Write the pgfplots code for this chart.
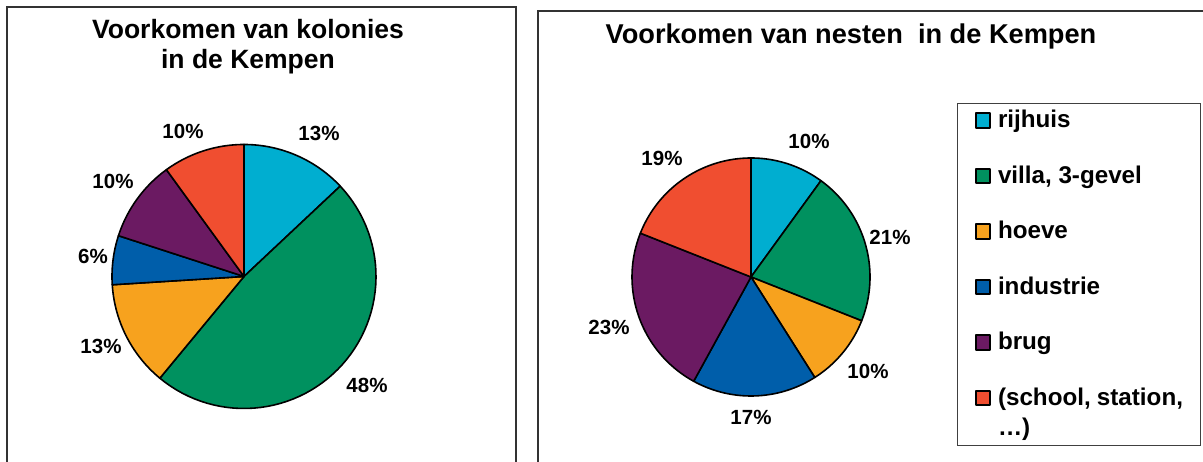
\documentclass[border=0pt]{standalone}
\usepackage{pgfplots}
\pgfplotsset{compat=1.18}
\usepackage{fontspec}
\setmainfont{Liberation Sans}
\definecolor{cRij}{RGB}{0,174,208}
\definecolor{cVil}{RGB}{0,145,95}
\definecolor{cHoe}{RGB}{247,162,30}
\definecolor{cInd}{RGB}{0,94,170}
\definecolor{cBru}{RGB}{107,26,98}
\definecolor{cSch}{RGB}{240,78,48}
% percentages (clockwise from 12 o'clock): rijhuis, villa, hoeve, industrie, brug, school
% kolonies: 13, 48, 13, 6, 10, 10  -> angles 90, 43.2, -129.6, -176.4, -198, -234, -270
% nesten:   10, 21, 10, 17, 23, 19 -> angles 90, 54, -21.6, -57.6, -118.8, -201.6, -270
\pgfplotsset{
  pieax/.style={hide axis, scale only axis, anchor=center, clip=false,
    xmin=-1, xmax=1, ymin=-1, ymax=1},
  slice/.style={fill=#1, draw=black, line width=1.6bp, line join=round, samples=60, variable=\t},
}
\begin{document}
\begin{tikzpicture}[x=1bp,y=1bp]
\clip (0,0) rectangle (1203,462);
% frames
\draw[line width=1.2bp, black!80] (7,-20) -- (7,455) -- (516,455) -- (516,-20);
\draw[line width=1.2bp, black!80] (538,-20) -- (538,451) -- (1240,451);
% titles
\node[font=\fontsize{26.5bp}{30.4bp}\selectfont\bfseries, align=center, anchor=base] at (248,393) {Voorkomen van kolonies\\in de Kempen};
\node[font=\fontsize{27.2bp}{30bp}\selectfont\bfseries, anchor=base] at (851,418) {Voorkomen van nesten\ \ in de Kempen};

\begin{axis}[pieax, at={(244bp,185.5bp)}, width=264bp, height=264bp]
\addplot[slice=cRij, domain=43.2:90] ({cos(\t)},{sin(\t)}) -- (axis cs:0,0) -- cycle;
\addplot[slice=cVil, domain=-129.6:43.2] ({cos(\t)},{sin(\t)}) -- (axis cs:0,0) -- cycle;
\addplot[slice=cHoe, domain=-176.4:-129.6] ({cos(\t)},{sin(\t)}) -- (axis cs:0,0) -- cycle;
\addplot[slice=cInd, domain=-198:-176.4] ({cos(\t)},{sin(\t)}) -- (axis cs:0,0) -- cycle;
\addplot[slice=cBru, domain=-234:-198] ({cos(\t)},{sin(\t)}) -- (axis cs:0,0) -- cycle;
\addplot[slice=cSch, domain=-270:-234] ({cos(\t)},{sin(\t)}) -- (axis cs:0,0) -- cycle;
\end{axis}

\begin{axis}[pieax, at={(751bp,185bp)}, width=238bp, height=238bp,
  legend style={at={(1.3655,1.231)}, anchor=north west, draw=black!75, line width=1bp,
    font=\fontsize{24.2bp}{30bp}\selectfont\bfseries,
    inner xsep=17bp, inner ysep=0.3bp, row sep=37.5bp,
    nodes={anchor=base west, inner sep=0pt, text height=17bp, text depth=0pt},
    /tikz/every odd column/.append style={column sep=7bp}},
  legend image code/.code={\draw[#1, line width=2bp] (0bp,0bp) rectangle (14.5bp,14.5bp);}]
\addplot[slice=cRij, domain=54:90] ({cos(\t)},{sin(\t)}) -- (axis cs:0,0) -- cycle;
\addlegendentry[text height=24bp]{rijhuis}
\addplot[slice=cVil, domain=-21.6:54] ({cos(\t)},{sin(\t)}) -- (axis cs:0,0) -- cycle;
\addlegendentry{villa, 3-gevel}
\addplot[slice=cHoe, domain=-57.6:-21.6] ({cos(\t)},{sin(\t)}) -- (axis cs:0,0) -- cycle;
\addlegendentry{hoeve}
\addplot[slice=cInd, domain=-118.8:-57.6] ({cos(\t)},{sin(\t)}) -- (axis cs:0,0) -- cycle;
\addlegendentry{industrie}
\addplot[slice=cBru, domain=-201.6:-118.8] ({cos(\t)},{sin(\t)}) -- (axis cs:0,0) -- cycle;
\addlegendentry{brug}
\addplot[slice=cSch, domain=-270:-201.6] ({cos(\t)},{sin(\t)}) -- (axis cs:0,0) -- cycle;
\addlegendentry{\parbox[t]{185bp}{(school, station,\\…)}}
\addlegendimage{empty legend}
\addlegendentry[text height=0pt]{}
\end{axis}

% percentage labels
\begin{scope}[every node/.style={font=\fontsize{20.5bp}{24bp}\selectfont\bfseries}]
\node at (319,329) {13\%};
\node at (367,77) {48\%};
\node at (101,116) {13\%};
\node at (93,206) {6\%};
\node at (113,281) {10\%};
\node at (183,331) {10\%};
\node at (809,320.5) {10\%};
\node at (890,225) {21\%};
\node at (868,91) {10\%};
\node at (751,45) {17\%};
\node at (609,135) {23\%};
\node at (662,304) {19\%};
\end{scope}
\end{tikzpicture}
\end{document}
